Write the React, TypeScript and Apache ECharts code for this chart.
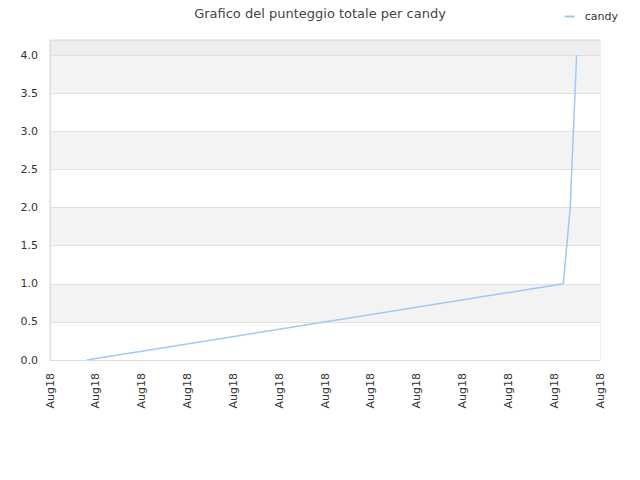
import React, { useEffect, useRef } from "react";
import * as echarts from "echarts";

const seriesName = "candy";
const titleText = "Grafico del punteggio totale per candy";
const xTickLabel = "Aug18";
const xValues = [0.8, 11.2, 11.35, 11.49];
const yValues = [0, 1, 2, 4];

export default function App() {
  const ref = useRef<HTMLDivElement>(null);
  useEffect(() => {
    if (!ref.current) return;
    const chart = echarts.init(ref.current, undefined, { renderer: "svg" });
    const font = "DejaVu Sans";
    chart.setOption({
      animation: false,
      backgroundColor: "#ffffff",
      textStyle: { fontFamily: font },
      title: {
        text: titleText,
        left: "center",
        top: 2,
        textStyle: { fontFamily: font, fontSize: 13, fontWeight: "normal", color: "#444444" },
      },
      legend: {
        right: 17,
        top: 6,
        icon: "rect",
        itemWidth: 10,
        itemHeight: 2,
        itemGap: 6,
        textStyle: { fontFamily: font, fontSize: 11, color: "#333333", padding: [0, 0, 0, 5] },
        data: [seriesName],
      },
      grid: {
        left: 50,
        right: 40,
        top: 40,
        bottom: 120,
        show: true,
        borderColor: "#dddddd",
        borderWidth: 1,
      },
      xAxis: {
        type: "value",
        min: 0,
        max: 12,
        interval: 1,
        axisLine: { show: true, lineStyle: { color: "#dddddd" } },
        axisTick: { show: false },
        splitLine: { show: false },
        axisLabel: {
          rotate: 90,
          margin: 13,
          fontFamily: font,
          fontSize: 11,
          color: "#333333",
          formatter: () => xTickLabel,
        },
      },
      yAxis: {
        type: "value",
        min: 0,
        max: 4.2,
        interval: 0.5,
        axisLine: { show: true, lineStyle: { color: "#dddddd" } },
        axisTick: { show: false },
        splitLine: { show: true, lineStyle: { color: "#e0e0e0" } },
        splitArea: {
          show: true,
          areaStyle: {
            color: [
              "#ffffff", "#f3f3f3", "#ffffff", "#f3f3f3", "#ffffff",
              "#f3f3f3", "#ffffff", "#f3f3f3", "#eeeeee",
            ],
          },
        },
        axisLabel: {
          margin: 12,
          fontFamily: font,
          fontSize: 11,
          color: "#333333",
          showMaxLabel: false,
          formatter: (v: number) => (Math.abs(v * 2 - Math.round(v * 2)) < 1e-6 ? v.toFixed(1) : ""),
        },
      },
      series: [
        {
          name: seriesName,
          type: "line",
          showSymbol: false,
          symbol: "none",
          lineStyle: { color: "#9ec9f5", width: 1.5 },
          itemStyle: { color: "#9ec9f5" },
          data: xValues.map((x, i) => [x, yValues[i]]),
        },
      ],
    });
    return () => chart.dispose();
  }, []);
  return <div ref={ref} style={{ width: 640, height: 480, margin: -8 }} />;
}
